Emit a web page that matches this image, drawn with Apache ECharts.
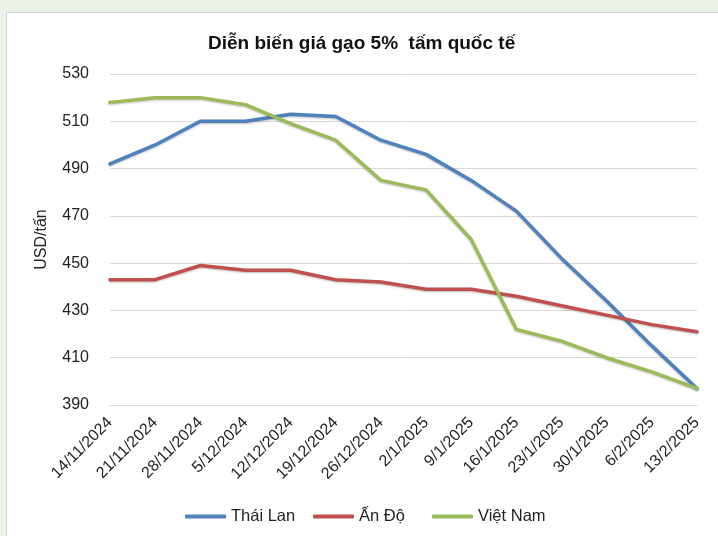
<!DOCTYPE html>
<html>
<head>
<meta charset="utf-8">
<script src="https://cdn.jsdelivr.net/npm/echarts@6/dist/echarts.min.js"></script>
<style>
  html, body { margin: 0; padding: 0; background: #ebf2e6; }
  #panel { position: absolute; left: 6px; top: 12px; width: 720px; height: 530px;
           background: #fff; border-left: 1px solid #d2d2d2; border-top: 1px solid #d2d2d2; }
  #main { position: absolute; left: 0; top: 0; width: 718px; height: 536px; }
</style>
</head>
<body>
<div id="panel"></div>
<div id="main"></div>
<script>
// dates (weekly)
var categories = ['14/11/2024', '21/11/2024', '28/11/2024', '5/12/2024', '12/12/2024', '19/12/2024',
  '26/12/2024', '2/1/2025', '9/1/2025', '16/1/2025', '23/1/2025', '30/1/2025', '6/2/2025', '13/2/2025'];

// USD/tấn
var thaiLan = [492, 500, 510, 510, 513, 512, 502, 496, 485, 472, 452, 434, 415, 397];
var anDo    = [443, 443, 449, 447, 447, 443, 442, 439, 439, 436, 432, 428, 424, 421];
var vietNam = [518, 520, 520, 517, 509, 502, 485, 481, 460, 422, 417, 410, 404, 397];

var seriesNames = ['Thái Lan', 'Ấn Độ', 'Việt Nam'];
var colors = ['#4f81bd', '#c0504d', '#9bbb59'];
var legendLeft = [185, 313, 432];

var chart = echarts.init(document.getElementById('main'));

function makeLine(name, data, color) {
  return {
    name: name,
    type: 'line',
    data: data,
    symbol: 'none',
    lineStyle: {
      width: 3.5,
      color: color,
      cap: 'round',
      join: 'round',
      shadowColor: 'rgba(0,0,0,0.25)',
      shadowBlur: 2,
      shadowOffsetY: 1
    },
    itemStyle: { color: color }
  };
}

// one legend per item so the uneven spacing can be kept
var legends = seriesNames.map(function (n, i) {
  return {
    data: [n],
    left: legendLeft[i],
    top: 508,
    padding: 0,
    itemWidth: 41,
    itemHeight: 4,
    icon: 'roundRect',
    textStyle: { fontSize: 16.5, color: '#222' }
  };
});

var option = {
  animation: false,
  textStyle: { fontFamily: 'Liberation Sans, Arial, sans-serif' },
  title: {
    text: 'Diễn biến giá gạo 5%  tấm quốc tế',
    left: 203,
    top: 29,
    textStyle: { fontSize: 19, fontWeight: 'bold', color: '#111', fontFamily: 'Liberation Sans, Arial, sans-serif' }
  },
  legend: legends,
  grid: { left: 110, right: 21, top: 74, bottom: 131 },
  xAxis: {
    type: 'category',
    data: categories,
    boundaryGap: false,
    axisLine: { lineStyle: { color: '#d9d9d9' } },
    axisTick: { show: false },
    axisLabel: { rotate: 45, fontSize: 16, color: '#222', margin: 15, interval: 0 }
  },
  yAxis: {
    type: 'value',
    min: 390,
    max: 530,
    interval: 20,
    name: 'USD/tấn',
    nameLocation: 'middle',
    nameRotate: 90,
    nameGap: 60,
    nameTextStyle: { fontSize: 16, color: '#222' },
    axisLine: { show: false },
    axisTick: { show: false },
    axisLabel: { fontSize: 16, color: '#222', margin: 21 },
    splitLine: { lineStyle: { color: '#d9d9d9', width: 1 } }
  },
  series: [
    makeLine(seriesNames[0], thaiLan, colors[0]),
    makeLine(seriesNames[1], anDo, colors[1]),
    makeLine(seriesNames[2], vietNam, colors[2])
  ]
};

chart.setOption(option);
</script>
</body>
</html>
